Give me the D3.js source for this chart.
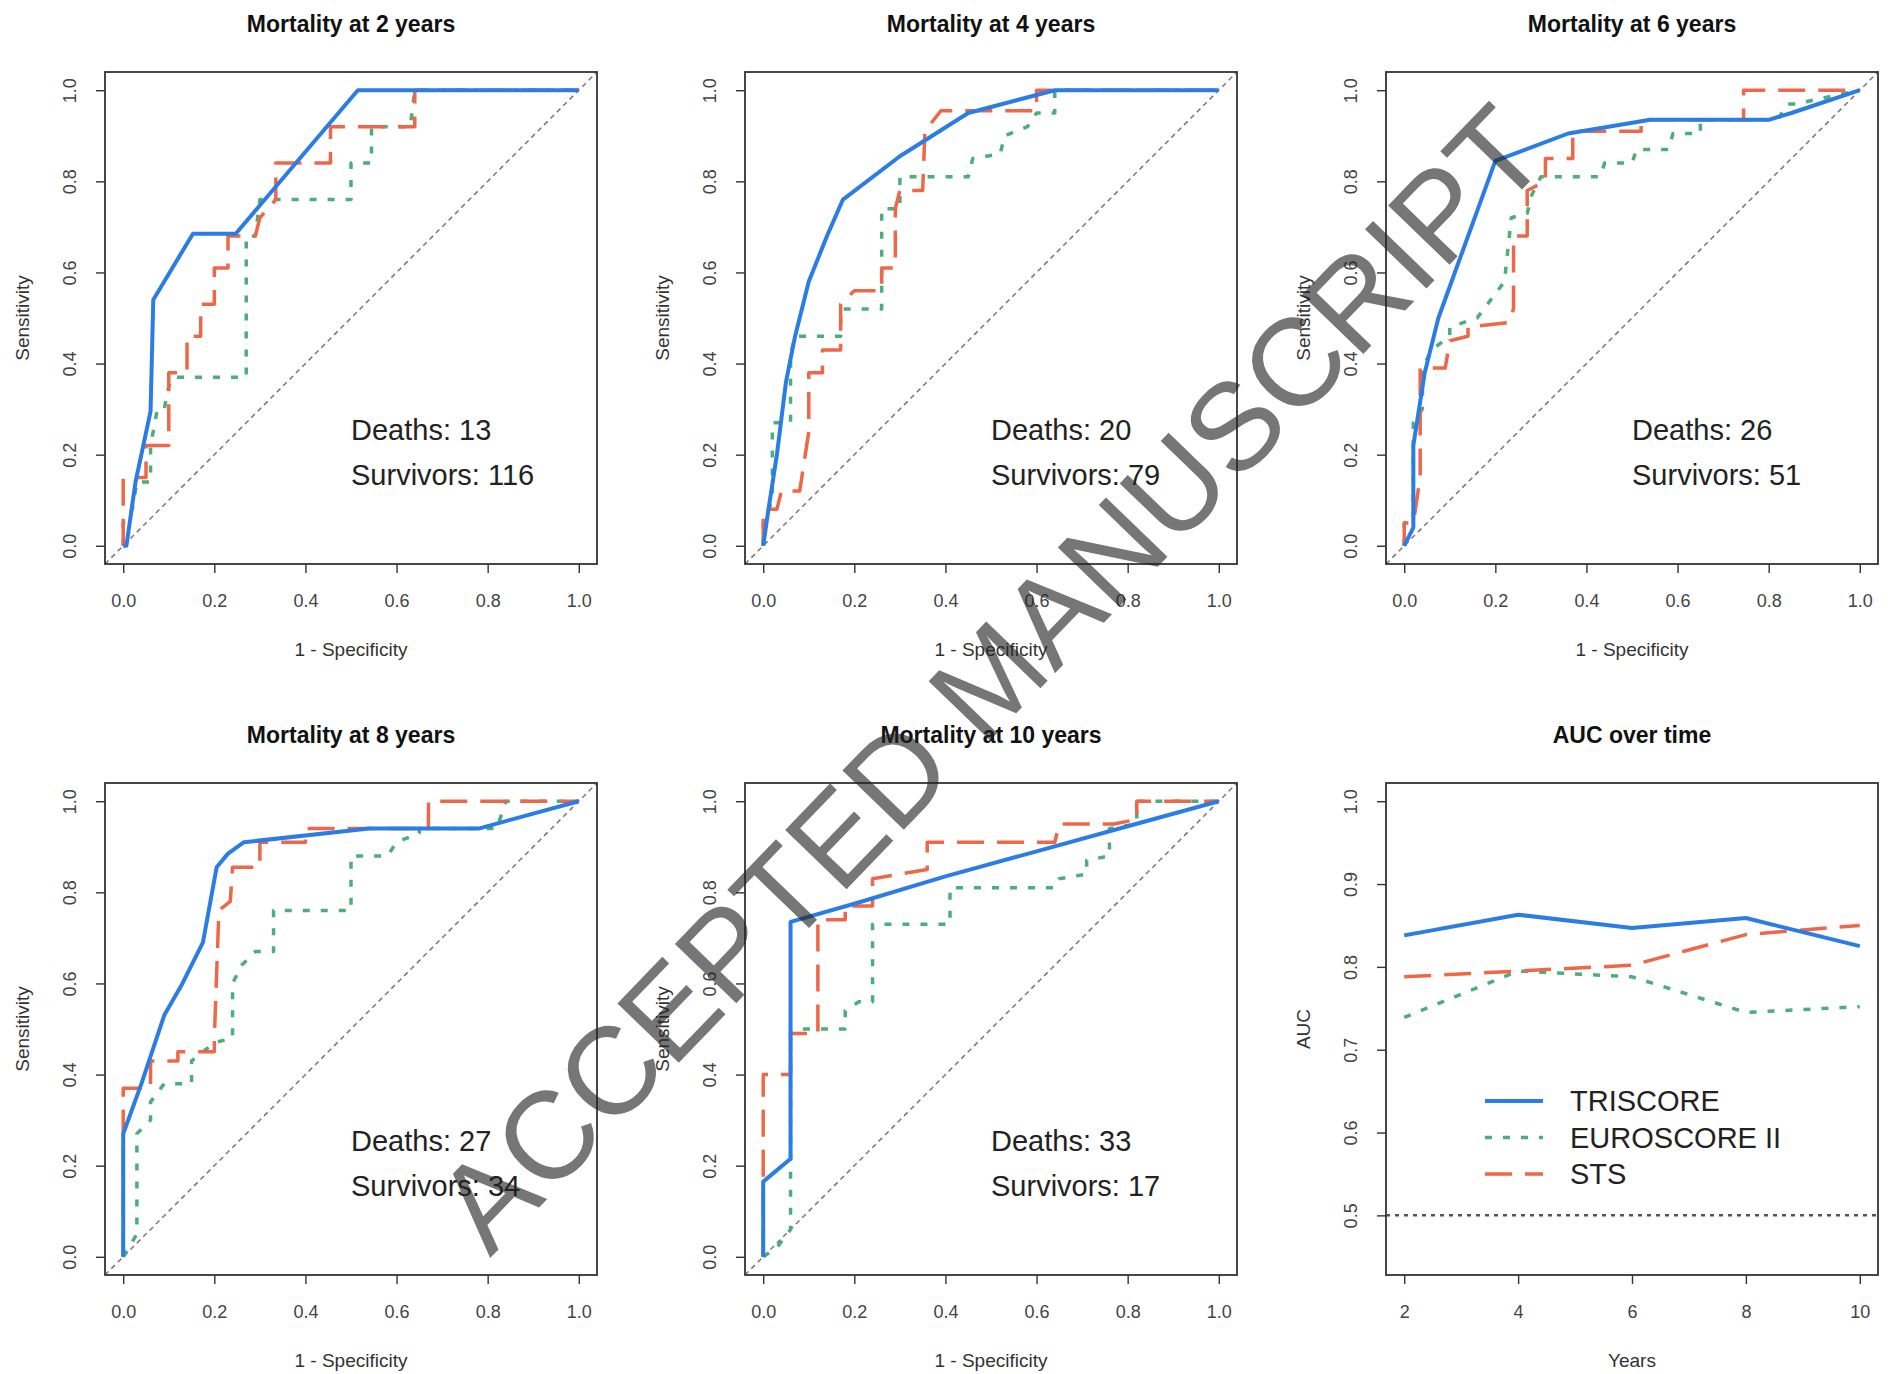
<!DOCTYPE html>
<html>
<head>
<meta charset="utf-8">
<script src="https://cdn.jsdelivr.net/npm/d3@7"></script>
<style>
    body { margin: 0; background: #fff; }
    svg { display: block; font-family: "Liberation Sans", Arial, sans-serif; }
</style>
</head>
<body>
<div class="cichart"></div>
<script>

// ---- data ----
var years = [2, 4, 6, 8, 10];
var deaths = [13, 20, 26, 27, 33];
var survivors = [116, 79, 51, 34, 17];
var modelNames = ["TRISCORE", "EUROSCORE II", "STS"];
var rocTicks = [0, 0.2, 0.4, 0.6, 0.8, 1.0];
var aucTicks = [0.5, 0.6, 0.7, 0.8, 0.9, 1.0];

// ROC points, [1 - specificity, sensitivity]
var tri2 = [[0,0],[0.007,0],[0.027,0.14],[0.06,0.295],[0.066,0.54],[0.153,0.685],[0.247,0.685],[0.515,1],[1,1]];
var euro2 = [[0,0],[0,0.05],[0.02,0.08],[0.03,0.14],[0.06,0.14],[0.06,0.22],[0.075,0.3],[0.09,0.3],[0.1,0.35],[0.11,0.37],[0.27,0.37],[0.27,0.68],[0.29,0.68],[0.3,0.76],[0.5,0.76],[0.5,0.84],[0.545,0.84],[0.545,0.92],[0.63,0.92],[0.64,1],[1,1]];
var sts2 = [[0,0],[0,0.15],[0.05,0.15],[0.05,0.22],[0.1,0.22],[0.1,0.38],[0.14,0.38],[0.14,0.46],[0.17,0.46],[0.17,0.53],[0.2,0.53],[0.2,0.61],[0.23,0.61],[0.23,0.68],[0.29,0.68],[0.3,0.72],[0.335,0.76],[0.335,0.84],[0.455,0.84],[0.455,0.92],[0.64,0.92],[0.64,1],[1,1]];

var tri4 = [[0,0],[0.01,0.07],[0.03,0.2],[0.05,0.36],[0.07,0.46],[0.1,0.58],[0.14,0.68],[0.175,0.76],[0.3,0.855],[0.45,0.95],[0.64,1],[1,1]];
var euro4 = [[0,0],[0,0.05],[0.02,0.1],[0.02,0.27],[0.06,0.27],[0.06,0.42],[0.07,0.46],[0.17,0.46],[0.17,0.52],[0.26,0.52],[0.26,0.74],[0.3,0.74],[0.3,0.81],[0.45,0.81],[0.46,0.85],[0.52,0.86],[0.53,0.9],[0.58,0.92],[0.6,0.95],[0.64,0.95],[0.64,1],[1,1]];
var sts4 = [[0,0],[0,0.08],[0.03,0.08],[0.04,0.12],[0.08,0.12],[0.1,0.25],[0.1,0.38],[0.13,0.38],[0.13,0.43],[0.17,0.43],[0.17,0.53],[0.2,0.56],[0.26,0.56],[0.26,0.61],[0.29,0.61],[0.29,0.74],[0.3,0.78],[0.35,0.78],[0.355,0.91],[0.39,0.955],[0.6,0.955],[0.6,1],[1,1]];

var tri6 = [[0,0],[0.02,0.04],[0.02,0.22],[0.045,0.38],[0.075,0.5],[0.2,0.845],[0.36,0.905],[0.54,0.935],[0.8,0.935],[0.85,0.95],[1,1]];
var euro6 = [[0,0],[0,0.05],[0.02,0.05],[0.02,0.27],[0.04,0.3],[0.04,0.39],[0.06,0.43],[0.1,0.46],[0.1,0.48],[0.16,0.5],[0.19,0.54],[0.22,0.58],[0.235,0.72],[0.27,0.73],[0.28,0.77],[0.3,0.81],[0.43,0.81],[0.44,0.84],[0.5,0.84],[0.51,0.87],[0.58,0.87],[0.59,0.905],[0.65,0.905],[0.65,0.935],[0.82,0.935],[0.84,0.97],[0.86,0.97],[1,1]];
var sts6 = [[0,0],[0,0.05],[0.02,0.05],[0.035,0.15],[0.035,0.39],[0.09,0.39],[0.1,0.45],[0.14,0.46],[0.14,0.48],[0.23,0.49],[0.24,0.52],[0.24,0.68],[0.27,0.68],[0.27,0.78],[0.31,0.8],[0.31,0.85],[0.37,0.85],[0.37,0.91],[0.52,0.91],[0.52,0.935],[0.745,0.935],[0.745,1],[1,1]];

var tri8 = [[0,0],[0,0.27],[0.04,0.38],[0.09,0.53],[0.13,0.6],[0.175,0.69],[0.205,0.855],[0.23,0.885],[0.265,0.91],[0.54,0.94],[0.78,0.94],[1,1]];
var euro8 = [[0,0],[0.03,0.05],[0.03,0.27],[0.06,0.3],[0.06,0.34],[0.09,0.38],[0.15,0.38],[0.15,0.43],[0.2,0.47],[0.24,0.48],[0.24,0.6],[0.26,0.64],[0.29,0.67],[0.33,0.67],[0.33,0.76],[0.5,0.76],[0.5,0.88],[0.58,0.88],[0.6,0.91],[0.65,0.93],[0.65,0.94],[0.82,0.94],[0.84,1],[1,1]];
var sts8 = [[0,0],[0,0.29],[0,0.37],[0.06,0.37],[0.06,0.43],[0.12,0.43],[0.12,0.45],[0.2,0.45],[0.2,0.48],[0.21,0.76],[0.235,0.78],[0.24,0.855],[0.3,0.855],[0.3,0.91],[0.4,0.91],[0.4,0.94],[0.67,0.94],[0.67,1],[1,1]];

var tri10 = [[0,0],[0,0.165],[0.06,0.215],[0.06,0.735],[0.2,0.775],[0.4,0.835],[0.6,0.89],[0.8,0.945],[1,1]];
var euro10 = [[0,0],[0.03,0.02],[0.06,0.06],[0.06,0.5],[0.18,0.5],[0.18,0.54],[0.21,0.56],[0.24,0.56],[0.24,0.73],[0.41,0.73],[0.41,0.81],[0.64,0.81],[0.65,0.83],[0.71,0.84],[0.71,0.87],[0.76,0.88],[0.76,0.94],[0.82,0.95],[0.82,1],[1,1]];
var sts10 = [[0,0],[0,0.18],[0,0.4],[0.06,0.4],[0.06,0.49],[0.12,0.49],[0.12,0.74],[0.18,0.74],[0.18,0.77],[0.24,0.77],[0.24,0.83],[0.36,0.85],[0.36,0.91],[0.64,0.91],[0.65,0.95],[0.77,0.95],[0.82,0.96],[0.82,1],[1,1]];

// AUC per follow-up year
var aucTriscore = [0.838, 0.863, 0.847, 0.859, 0.825];
var aucEuroscore = [0.739, 0.795, 0.788, 0.745, 0.752];
var aucSts = [0.788, 0.795, 0.802, 0.839, 0.850];

// ---- styles ----
var colors = ["#2b7de6", "#4cae78", "#ee6748"];
var widths = [4, 3.5, 3.5];
var dashes = [null, "7,11", "27,13"];

var boxSize = 492;
var colLeft = [105, 745, 1386];
var rowTop = [72, 783];

var svg = d3.select(".cichart").append("svg")
    .attr("width", 1891)
    .attr("height", 1374);

svg.append("rect").attr("width", 1891).attr("height", 1374).attr("fill", "#fff");

// common frame: box, title, axes
function drawFrame(g, x, y, xTicks, yTicks, fmtX, fmtY, title, xLabel, yLabel) {
    var xAxis = g.append("g")
        .attr("transform", "translate(0," + boxSize + ")")
        .call(d3.axisBottom(x).tickValues(xTicks).tickFormat(fmtX).tickSize(9));
    var yAxis = g.append("g")
        .call(d3.axisLeft(y).tickValues(yTicks).tickFormat(fmtY).tickSize(9));

    [xAxis, yAxis].forEach(function (a) {
        a.select(".domain").remove();
        a.selectAll("line").attr("stroke", "#333").attr("stroke-width", 1.4);
        a.selectAll("text")
            .attr("fill", "#444")
            .style("font-size", "18px")
            .style("font-family", "Liberation Sans, Arial, sans-serif");
    });

    xAxis.selectAll("text").attr("y", 37).attr("dy", "0.35em");
    yAxis.selectAll("text")
        .attr("x", 0).attr("y", 0).attr("dy", "0.35em")
        .attr("text-anchor", "middle")
        .attr("transform", "translate(-35,0) rotate(-90)");

    g.append("rect")
        .attr("width", boxSize).attr("height", boxSize)
        .attr("fill", "none").attr("stroke", "#333").attr("stroke-width", 1.8);

    g.append("text")
        .attr("x", boxSize / 2).attr("y", -48).attr("dy", "0.35em")
        .attr("text-anchor", "middle")
        .style("font-size", "23px").style("font-weight", "bold")
        .attr("fill", "#111")
        .text(title);

    g.append("text")
        .attr("x", boxSize / 2).attr("y", boxSize + 85).attr("dy", "0.35em")
        .attr("text-anchor", "middle")
        .style("font-size", "19px").attr("fill", "#333")
        .text(xLabel);

    g.append("text")
        .attr("transform", "translate(-83," + (boxSize / 2) + ") rotate(-90)")
        .attr("dy", "0.35em")
        .attr("text-anchor", "middle")
        .style("font-size", "19px").attr("fill", "#333")
        .text(yLabel);
}

function rocPanel(left, top, year, nDead, nAlive, curves, id) {
    var g = svg.append("g").attr("transform", "translate(" + left + "," + top + ")");

    var x = d3.scaleLinear().domain([-0.04, 1.04]).range([0, boxSize]);
    var y = d3.scaleLinear().domain([-0.04, 1.04]).range([boxSize, 0]);

    g.append("clipPath").attr("id", "clip" + id)
        .append("rect").attr("width", boxSize).attr("height", boxSize);

    var plot = g.append("g").attr("clip-path", "url(#clip" + id + ")");

    // chance line
    plot.append("line")
        .attr("x1", x(-0.04)).attr("y1", y(-0.04))
        .attr("x2", x(1.04)).attr("y2", y(1.04))
        .attr("stroke", "#777").attr("stroke-width", 1.5)
        .attr("stroke-dasharray", "5,4");

    var line = d3.line().x(function (d) { return x(d[0]); }).y(function (d) { return y(d[1]); });

    // euroscore, sts, then triscore on top
    [1, 2, 0].forEach(function (i) {
        plot.append("path")
            .datum(curves[i])
            .attr("d", line)
            .attr("fill", "none")
            .attr("stroke", colors[i])
            .attr("stroke-width", widths[i])
            .attr("stroke-dasharray", dashes[i])
            .attr("stroke-linejoin", "round");
    });

    drawFrame(g, x, y, rocTicks, rocTicks, d3.format(".1f"), d3.format(".1f"),
        "Mortality at " + year + " years", "1 - Specificity", "Sensitivity");

    g.append("text")
        .attr("x", x(0.5)).attr("y", y(0.255)).attr("dy", "0.35em")
        .style("font-size", "29px").attr("fill", "#222")
        .text("Deaths: " + nDead);
    g.append("text")
        .attr("x", x(0.5)).attr("y", y(0.155)).attr("dy", "0.35em")
        .style("font-size", "29px").attr("fill", "#222")
        .text("Survivors: " + nAlive);
}

rocPanel(colLeft[0], rowTop[0], years[0], deaths[0], survivors[0], [tri2, euro2, sts2], 1);
rocPanel(colLeft[1], rowTop[0], years[1], deaths[1], survivors[1], [tri4, euro4, sts4], 2);
rocPanel(colLeft[2], rowTop[0], years[2], deaths[2], survivors[2], [tri6, euro6, sts6], 3);
rocPanel(colLeft[0], rowTop[1], years[3], deaths[3], survivors[3], [tri8, euro8, sts8], 4);
rocPanel(colLeft[1], rowTop[1], years[4], deaths[4], survivors[4], [tri10, euro10, sts10], 5);

// AUC over time panel
function aucPanel(left, top) {
    var g = svg.append("g").attr("transform", "translate(" + left + "," + top + ")");

    var x = d3.scaleLinear().domain([2 - 0.32, 10 + 0.32]).range([0, boxSize]);
    var y = d3.scaleLinear().domain([0.45 - 0.022, 1.0 + 0.022]).range([boxSize, 0]);

    g.append("line")
        .attr("x1", 0).attr("x2", boxSize)
        .attr("y1", y(0.5)).attr("y2", y(0.5))
        .attr("stroke", "#555").attr("stroke-width", 2.5)
        .attr("stroke-dasharray", "4,5");

    var series = [aucTriscore, aucEuroscore, aucSts];
    var line = d3.line().x(function (d, i) { return x(years[i]); }).y(function (d) { return y(d); });

    [1, 2, 0].forEach(function (i) {
        g.append("path")
            .datum(series[i])
            .attr("d", line)
            .attr("fill", "none")
            .attr("stroke", colors[i])
            .attr("stroke-width", widths[i])
            .attr("stroke-dasharray", dashes[i])
            .attr("stroke-linejoin", "round");
    });

    drawFrame(g, x, y, years, aucTicks, d3.format("d"), d3.format(".1f"),
        "AUC over time", "Years", "AUC");

    // legend
    var legend = g.append("g").attr("transform", "translate(" + (1485 - left) + "," + (1101 - top) + ")");
    modelNames.forEach(function (name, i) {
        legend.append("line")
            .attr("x1", 0).attr("x2", 58)
            .attr("y1", i * 36.5).attr("y2", i * 36.5)
            .attr("stroke", colors[i])
            .attr("stroke-width", widths[i])
            .attr("stroke-dasharray", dashes[i]);
        legend.append("text")
            .attr("x", 85).attr("y", i * 36.5).attr("dy", "0.35em")
            .style("font-size", "29px").attr("fill", "#222")
            .text(name);
    });
}

aucPanel(colLeft[2], rowTop[1]);

// watermark, solid grey letters laid over the plots
svg.append("text")
    .attr("transform", "translate(990,678) rotate(-46)")
    .attr("text-anchor", "middle")
    .attr("dy", "0.35em")
    .style("font-size", "124px")
    .attr("fill", "#222")
    .attr("fill-opacity", 0.62)
    .text("ACCEPTED MANUSCRIPT");

</script>
</body>
</html>
